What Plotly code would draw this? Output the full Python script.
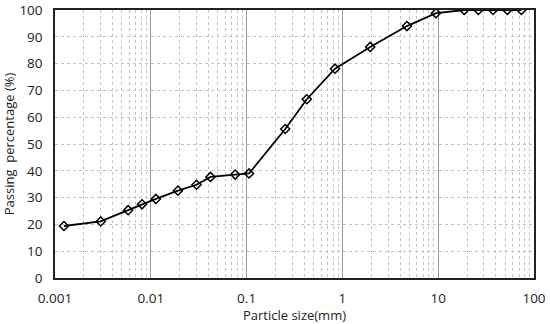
import plotly.graph_objects as go

particle_size_mm = [0.00124, 0.003, 0.0058, 0.0081, 0.0113, 0.0192, 0.030, 0.042, 0.076, 0.106,
                    0.253, 0.425, 0.837, 1.95, 4.72, 9.47, 18.7, 26.3, 37.4, 52.7, 73.8]
passing_pct = [19.4, 21.1, 25.3, 27.5, 29.5, 32.6, 34.8, 37.7, 38.6, 39.0,
               55.6, 66.7, 78.1, 86.2, 94.0, 98.8, 100, 100, 100, 100, 100]

x_ticks = [0.001, 0.01, 0.1, 1, 10, 100]
x_tick_labels = ["0.001", "0.01", "0.1", "1", "10", "100"]
y_ticks = list(range(0, 101, 10))

font_family = "Open Sans, Noto Sans, sans-serif"

fig = go.Figure()
fig.add_trace(go.Scatter(
    x=particle_size_mm, y=passing_pct, mode="lines+markers",
    line=dict(color="black", width=1.8),
    marker=dict(symbol="diamond-open", size=7, color="black", line=dict(width=1.5, color="black")),
    showlegend=False,
))

fig.update_layout(
    width=550, height=324,
    margin=dict(l=55, r=16, t=10, b=46, autoexpand=False),
    paper_bgcolor="white", plot_bgcolor="white",
    font=dict(family=font_family, size=13.5, color="#222"),
)
fig.update_xaxes(
    type="log", range=[-3, 2], automargin=False,
    tickvals=x_ticks, ticktext=x_tick_labels, ticklabelstandoff=7,
    showgrid=True, gridcolor="#9a9a9a", gridwidth=1,
    minor=dict(dtick="D1", showgrid=True, gridcolor="#c4c4c4", griddash="3px,3px", gridwidth=1, ticks=""),
    showline=True, linecolor="#222", linewidth=1.5, mirror=True,
    ticks="", zeroline=False,
    title=dict(text="Particle size(mm)", standoff=2, font=dict(size=13)),
)
fig.update_yaxes(
    range=[0, 100], tickvals=y_ticks, automargin=False, ticklabelstandoff=8,
    showgrid=True, gridcolor="#c4c4c4", griddash="3px,3px", gridwidth=1,
    showline=True, linecolor="#222", linewidth=1.5, mirror=True,
    ticks="", zeroline=False,
    title=dict(text="Passing  percentage (%)", standoff=8, font=dict(size=13)),
)

fig.write_html("out.html", config={"displayModeBar": False},
               post_script="document.body.style.margin='0';")
